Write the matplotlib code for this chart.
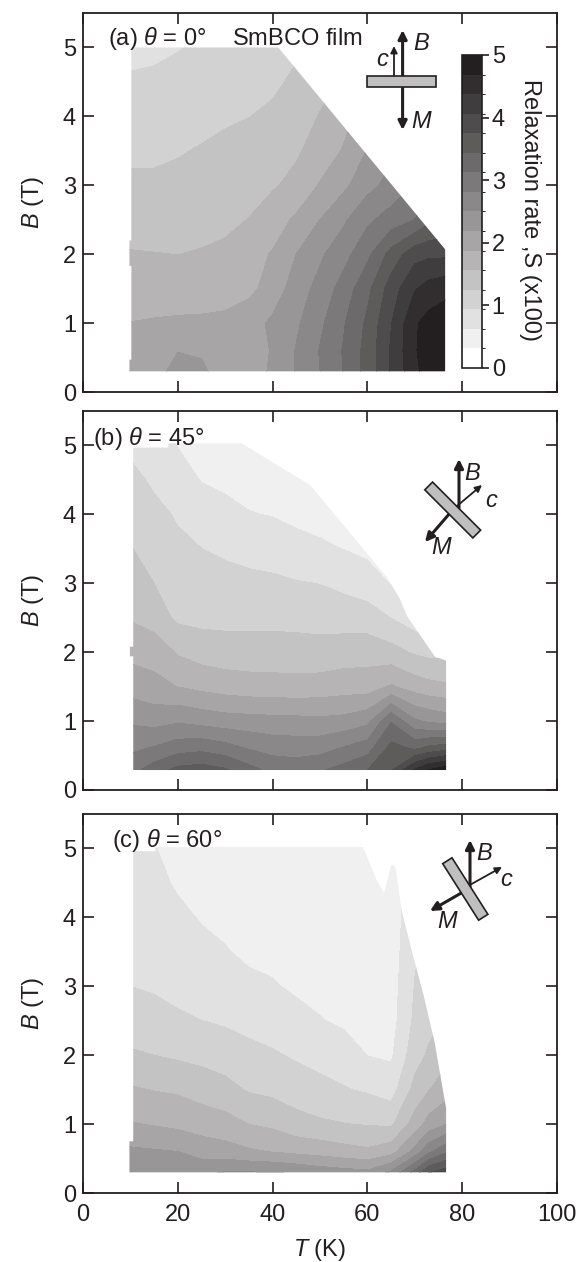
import numpy as np
import matplotlib
matplotlib.use("Agg")
import matplotlib.pyplot as plt
from matplotlib.colors import ListedColormap, LinearSegmentedColormap, BoundaryNorm
from matplotlib.patches import Polygon, FancyArrowPatch

plt.rcParams['font.family'] = ['Liberation Sans', 'DejaVu Sans']
plt.rcParams['mathtext.fontset'] = 'custom'
plt.rcParams['mathtext.rm'] = 'Liberation Sans'
plt.rcParams['mathtext.it'] = 'Liberation Sans:italic'
plt.rcParams['mathtext.bf'] = 'Liberation Sans:bold'

INK = '#231f20'

# ---------------- data ----------------
T_nodes = [9.8, 15, 20, 25, 30, 35, 40, 45, 50, 55, 60, 65, 70, 73, 77]
B_nodes = [0.28, 0.6, 1.0, 1.5, 2.0, 2.5, 3.0, 3.5, 4.0, 4.5, 5.05]

# relaxation rate S (x100); rows follow B_nodes, columns follow T_nodes
S_a = [
    [2.00, 2.10, 2.28, 2.25, 2.05, 2.00, 2.25, 2.52, 2.81, 3.14, 3.55, 4.10, 4.60, 4.85, 4.95],
    [1.95, 2.05, 2.18, 2.15, 2.00, 1.98, 2.22, 2.52, 2.83, 3.15, 3.55, 4.10, 4.65, 4.90, 4.98],
    [1.88, 1.90, 1.92, 1.93, 1.95, 2.05, 2.25, 2.45, 2.75, 3.10, 3.50, 4.05, 4.65, 4.80, 4.90],
    [1.72, 1.73, 1.72, 1.72, 1.74, 1.80, 2.00, 2.35, 2.60, 2.95, 3.35, 3.90, 4.35, 4.50, 4.60],
    [1.58, 1.57, 1.56, 1.58, 1.62, 1.75, 1.90, 2.19, 2.45, 2.70, 3.05, 3.55, 3.95, 4.00, 4.00],
    [1.45, 1.44, 1.45, 1.48, 1.50, 1.57, 1.72, 1.93, 2.19, 2.45, 2.75, 2.95, 3.13, 3.35, 3.50],
    [1.31, 1.30, 1.32, 1.35, 1.40, 1.46, 1.53, 1.65, 1.90, 2.12, 2.40, 2.60, 2.85, 3.00, 3.10],
    [1.19, 1.20, 1.23, 1.27, 1.32, 1.38, 1.45, 1.52, 1.70, 1.90, 2.20, 2.45, 2.70, 2.85, 3.00],
    [1.08, 1.10, 1.13, 1.17, 1.21, 1.245, 1.30, 1.42, 1.58, 1.78, 2.00, 2.20, 2.40, 2.50, 2.60],
    [0.97, 0.98, 1.00, 1.04, 1.09, 1.14, 1.20, 1.30, 1.45, 1.60, 1.80, 2.00, 2.20, 2.30, 2.40],
    [0.85, 0.88, 0.92, 0.955, 1.00, 1.06, 1.12, 1.20, 1.35, 1.50, 1.70, 1.90, 2.10, 2.20, 2.30],
]

S_b = [
    [3.00, 3.30, 3.55, 3.60, 3.50, 3.25, 3.05, 3.00, 3.10, 3.25, 3.45, 3.75, 4.45, 4.75, 4.98],
    [2.75, 2.85, 3.00, 3.05, 2.95, 2.80, 2.70, 2.68, 2.70, 2.85, 3.00, 3.55, 3.40, 3.55, 3.65],
    [2.46, 2.39, 2.46, 2.39, 2.33, 2.31, 2.29, 2.28, 2.26, 2.29, 2.41, 3.10, 2.55, 2.45, 2.36],
    [2.06, 1.96, 1.87, 1.79, 1.73, 1.69, 1.68, 1.67, 1.69, 1.73, 1.73, 1.91, 1.73, 1.66, 1.61],
    [1.79, 1.76, 1.53, 1.43, 1.39, 1.39, 1.39, 1.38, 1.37, 1.41, 1.43, 1.36, 1.21, 1.16, 1.16],
    [1.54, 1.41, 1.19, 1.16, 1.16, 1.16, 1.16, 1.15, 1.13, 1.11, 1.09, 0.93, 0.76, 0.69, 0.71],
    [1.41, 1.25, 1.09, 1.05, 1.03, 1.01, 0.99, 0.96, 0.93, 0.86, 0.76, 0.61, 0.53, 0.51, 0.51],
    [1.27, 1.13, 0.99, 0.94, 0.89, 0.84, 0.81, 0.69, 0.66, 0.62, 0.56, 0.51, 0.41, 0.41, 0.41],
    [1.16, 1.01, 0.91, 0.81, 0.73, 0.64, 0.61, 0.58, 0.55, 0.51, 0.46, 0.41, 0.41, 0.41, 0.41],
    [1.03, 0.89, 0.76, 0.61, 0.55, 0.51, 0.49, 0.47, 0.46, 0.43, 0.41, 0.41, 0.41, 0.41, 0.41],
    [0.86, 0.76, 0.60, 0.51, 0.46, 0.43, 0.41, 0.41, 0.41, 0.41, 0.41, 0.41, 0.41, 0.41, 0.41],
]

S_c = [
    [2.35, 2.40, 2.40, 2.45, 2.55, 2.55, 2.55, 2.49, 2.40, 2.35, 2.30, 2.60, 3.30, 3.80, 4.00],
    [2.25, 2.22, 2.19, 2.05, 2.00, 1.92, 1.86, 1.80, 1.75, 1.68, 1.62, 1.75, 2.30, 2.75, 3.10],
    [1.90, 1.85, 1.80, 1.74, 1.68, 1.56, 1.50, 1.36, 1.30, 1.26, 1.23, 1.20, 1.70, 2.00, 2.20],
    [1.60, 1.55, 1.52, 1.43, 1.35, 1.22, 1.17, 1.10, 1.02, 0.96, 0.90, 0.80, 1.35, 1.55, 1.75],
    [1.29, 1.25, 1.20, 1.16, 1.10, 1.02, 0.97, 0.90, 0.84, 0.76, 0.62, 0.58, 1.12, 1.30, 1.50],
    [1.10, 1.06, 0.99, 0.94, 0.90, 0.85, 0.80, 0.72, 0.64, 0.58, 0.50, 0.50, 1.00, 1.15, 1.30],
    [0.94, 0.90, 0.84, 0.78, 0.74, 0.68, 0.65, 0.58, 0.54, 0.50, 0.45, 0.48, 0.95, 1.10, 1.20],
    [0.88, 0.82, 0.74, 0.68, 0.64, 0.58, 0.55, 0.50, 0.47, 0.45, 0.42, 0.46, 0.90, 1.05, 1.20],
    [0.82, 0.74, 0.67, 0.61, 0.57, 0.52, 0.48, 0.45, 0.43, 0.42, 0.40, 0.45, 0.85, 1.00, 1.20],
    [0.76, 0.68, 0.60, 0.55, 0.50, 0.46, 0.43, 0.41, 0.40, 0.39, 0.38, 0.45, 0.80, 1.00, 1.20],
    [0.70, 0.63, 0.55, 0.50, 0.46, 0.42, 0.40, 0.38, 0.37, 0.37, 0.37, 0.45, 0.80, 1.00, 1.20],
]

# measured (T, B) range of each map
a_edge_T = [9.8, 76.4, 76.4, 41.2, 10.2, 10.2, 9.8, 9.8, 10.2, 10.2, 9.8]
a_edge_B = [0.30, 0.30, 2.07, 5.0, 5.0, 2.2, 2.2, 1.83, 1.83, 0.47, 0.47]
b_edge_T = [10.6, 76.6, 76.6, 74.3, 68.4, 66.8, 64.2, 48.0, 33.5, 18.0, 18.0, 10.6, 10.6, 9.9, 9.9, 10.6]
b_edge_B = [0.29, 0.29, 1.88, 1.93, 2.52, 2.78, 3.08, 4.42, 5.03, 5.03, 4.97, 4.97, 2.08, 2.08, 1.94, 1.94]
c_edge_T = [9.8, 76.6, 76.6, 74.2, 71.9, 69.5, 67.2, 66.0, 65.5, 65.0, 63.5, 61.9, 59.1, 15.3, 15.3, 10.6, 10.6, 9.8]
c_edge_B = [0.30, 0.30, 1.23, 2.18, 2.86, 3.48, 4.11, 4.70, 4.77, 4.75, 4.35, 4.55, 5.02, 5.02, 4.96, 4.96, 0.75, 0.75]

panel_titles = [r"(a) $\theta$ = 0°    SmBCO film", r"(b) $\theta$ = 45°", r"(c) $\theta$ = 60°"]
x_ticks = [0, 20, 40, 60, 80, 100]
y_ticks = [0, 1, 2, 3, 4, 5]
cbar_ticks = [0, 1, 2, 3, 4, 5]

# ---------------- style ----------------
W, H = 584, 1262
levels = np.linspace(0, 5, 17)
gray = LinearSegmentedColormap.from_list('g', ['#ffffff', INK])
cmap = ListedColormap(gray(np.linspace(0, 1, 16)))
norm = BoundaryNorm(levels, cmap.N)
FS = 17

fig = plt.figure(figsize=(W / 100, H / 100), dpi=100)


def fp(x, y):
    return (x / W, 1 - y / H)


ax_tops = [13, 411, 814]
ax_h = 379
axes = []
for top in ax_tops:
    ax = fig.add_axes([83 / W, 1 - (top + ax_h) / H, 474 / W, ax_h / H])
    axes.append(ax)

datasets = [(S_a, a_edge_T, a_edge_B), (S_b, b_edge_T, b_edge_B), (S_c, c_edge_T, c_edge_B)]
title_pos = [(0.053, 0.968), (0.021, 0.963), (0.062, 0.966)]

cs0 = None
for i, (ax, (S, eT, eB)) in enumerate(zip(axes, datasets)):
    cs = ax.contourf(T_nodes, B_nodes, np.array(S), levels=levels, cmap=cmap, norm=norm)
    clip = Polygon(np.column_stack([eT, eB]), closed=True, transform=ax.transData,
                   fc='none', ec='none')
    ax.add_patch(clip)
    cs.set_clip_path(clip)
    if cs0 is None:
        cs0 = cs
    ax.set_xlim(0, 100)
    ax.set_ylim(0, 5.5)
    ax.set_xticks(x_ticks)
    ax.set_yticks(y_ticks)
    ax.tick_params(direction='in', length=8, width=1.2, top=True, right=True,
                   labelsize=FS, colors=INK, pad=5)
    ax.tick_params(axis='x', pad=8)
    for s in ax.spines.values():
        s.set_linewidth(1.3)
        s.set_color(INK)
    if i < 2:
        ax.tick_params(labelbottom=False)
    ax.set_ylabel(r"$B$ (T)", fontsize=FS, color=INK, va='center')
    ax.yaxis.set_label_coords(-0.105, 0.5)
    ax.text(title_pos[i][0], title_pos[i][1], panel_titles[i], transform=ax.transAxes,
            fontsize=FS, color=INK, ha='left', va='top')

axes[2].set_xlabel(r"$T$ (K)", fontsize=FS, color=INK, va='center')
axes[2].xaxis.set_label_coords(0.5, -0.150)

# colorbar
cax = fig.add_axes([462 / W, 1 - 368 / H, 20 / W, 313 / H])
cb = fig.colorbar(cs0, cax=cax, ticks=cbar_ticks)
cb.outline.set_linewidth(1.2)
cb.outline.set_edgecolor(INK)
cb.ax.tick_params(direction='out', length=5, width=1.2, labelsize=FS, colors=INK, pad=2)
fig.text(530 / W, 1 - 210 / H, "Relaxation rate ,S (x100)", rotation=270, fontsize=FS,
         color=INK, ha='center', va='center')


# ---------------- sample sketches ----------------
def arrow(p0, p1, lw=2.2, ms=13):
    a = FancyArrowPatch(fp(*p0), fp(*p1), transform=fig.transFigure, arrowstyle='-|>',
                        mutation_scale=ms, lw=lw, color=INK, shrinkA=0, shrinkB=0, zorder=10)
    fig.add_artist(a)


def slab(cx, cy, length, width, dx, dy):
    n = np.hypot(dx, dy)
    ux, uy = dx / n, dy / n
    vx, vy = -uy, ux
    pts = []
    for a, b in [(1, 1), (1, -1), (-1, -1), (-1, 1)]:
        pts.append(fp(cx + a * ux * length / 2 + b * vx * width / 2,
                      cy + a * uy * length / 2 + b * vy * width / 2))
    p = Polygon(pts, closed=True, transform=fig.transFigure, fc='#bfbfbf', ec=INK,
                lw=1.2, zorder=11)
    fig.add_artist(p)


def lab(x, y, s):
    fig.text(x / W, 1 - y / H, s, fontsize=FS, style='italic', color=INK,
             ha='center', va='center', zorder=12)


# (a)
arrow((402.6, 76), (402.6, 30))
arrow((394, 76), (394, 46), lw=1.3, ms=10)
arrow((402.6, 87), (402.6, 130))
slab(401.5, 81.5, 69, 11, 1, 0)
lab(421, 43, "B")
lab(382, 59, "c")
lab(421, 121, "M")

# (b)
arrow((459, 508), (459, 459))
arrow((457, 506), (482, 485), lw=1.3, ms=10)
arrow((450, 513), (425, 542))
slab(452.7, 510, 68, 11, 1, 1)
lab(472, 473, "B")
lab(491, 500, "c")
lab(441, 547, "M")

# (c)
arrow((470, 887), (470, 840))
arrow((468, 886), (502, 867), lw=1.3, ms=10)
arrow((463, 892), (430, 911))
slab(465.3, 889, 67, 11, 108, 170)
lab(484, 853, "B")
lab(506, 879, "c")
lab(447.5, 922, "M")

fig.savefig("out.png", dpi=100)
